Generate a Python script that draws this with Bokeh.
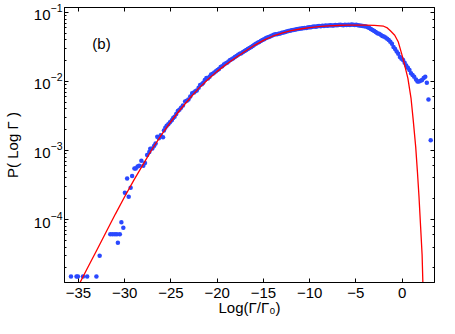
from bokeh.plotting import figure
from bokeh.models import (LinearAxis, LogAxis, Range1d, SingleIntervalTicker, LogTicker, Label,
                          CustomLabelingPolicy)
from bokeh.embed import file_html
from bokeh.resources import INLINE

# fitted curve (red)
fit_x = [-35.0, -34.0, -33.0, -32.0, -31.0, -30.0, -29.0, -28.0, -27.0, -26.0,
         -25.0, -24.0, -23.0, -22.0, -21.0, -20.0, -19.0, -18.0, -17.0, -16.0,
         -15.0, -14.0, -13.0, -12.0, -11.0, -10.0, -9.0, -8.0, -7.0, -6.0,
         -5.0, -4.0, -3.0, -2.0, -1.6, -1.27, -0.8, -0.41, 0.1, 0.62,
         0.96, 1.2, 1.47, 1.65, 1.82, 2.0, 2.16, 2.25]
fit_p = [1.10e-5, 2.0e-5, 3.63e-5, 6.6e-5, 1.20e-4, 2.14e-4, 3.72e-4, 6.3e-4, 1.06e-3, 1.70e-3,
         2.63e-3, 3.89e-3, 5.62e-3, 7.94e-3, 1.07e-2, 1.40e-2, 1.78e-2, 2.21e-2, 2.72e-2, 3.31e-2,
         3.94e-2, 4.52e-2, 5.01e-2, 5.43e-2, 5.75e-2, 6.03e-2, 6.24e-2, 6.38e-2, 6.46e-2, 6.53e-2,
         6.56e-2, 6.56e-2, 6.50e-2, 6.31e-2, 5.96e-2, 5.42e-2, 4.68e-2, 3.72e-2, 2.14e-2, 1.12e-2,
         5.75e-3, 2.75e-3, 1.12e-3, 5.0e-4, 2.19e-4, 7.8e-5, 3.09e-5, 1.12e-5]

# measured data (blue dots)
data_x = [-35.8, -35.2, -35.05, -34.5, -34.05, -33.05, -32.7,
          -31.55, -31.3, -31.05, -30.83, -30.73, -30.52, -30.35, -30.14,
          -29.97, -29.73, -29.56, -29.35, -29.19, -28.94, -28.8, -28.6, -28.43, -28.19,
          -27.98, -27.8, -27.57, -27.33, -27.23,
          -27.0, -26.8, -26.65, -26.47, -26.3, -26.1, -25.85, -25.75, -25.6, -25.45,
          -25.28, -25.1, -24.9, -24.75, -24.6, -24.42, -24.25, -24.08, -23.9, -23.7,
          -23.46, -23.28, -23.1, -22.9, -22.7, -22.5, -22.35, -22.2, -22.0, -21.84,
          -21.65, -21.5, -21.33, -21.16, -21.0, -20.82, -20.65, -20.48, -20.3, -20.13,
          -19.96, -19.8, -19.62, -19.45, -19.27, -19.1, -18.93, -18.77, -18.6, -18.42,
          -18.25, -18.08, -17.9, -17.72, -17.55, -17.38, -17.2, -17.02, -16.85, -16.68,
          -16.5, -16.32, -16.15, -15.98, -15.8, -15.62, -15.45, -15.28, -15.1, -14.92,
          -14.75, -14.58, -14.4, -14.22, -14.05, -13.88, -13.7, -13.52, -13.35, -13.18,
          -13.0, -12.82, -12.65, -12.48, -12.3, -12.12, -11.95, -11.78, -11.6, -11.42,
          -11.25, -11.08, -10.9, -10.72, -10.55, -10.38, -10.2, -10.02, -9.85, -9.68,
          -9.5, -9.32, -9.15, -8.98, -8.8, -8.62, -8.45, -8.28, -8.1, -7.92,
          -7.75, -7.58, -7.4, -7.22, -7.05, -6.88, -6.7, -6.52, -6.35, -6.18,
          -6.0, -5.82, -5.65, -5.48, -5.3, -5.12, -4.95, -4.78, -4.6, -4.42,
          -4.25, -4.08, -3.9, -3.72, -3.55, -3.38, -3.2, -3.02, -2.85, -2.68,
          -2.5, -2.32, -2.15, -1.98, -1.8, -1.62, -1.45, -1.28, -1.1, -0.93,
          -0.76, -0.59, -0.42, -0.24, -0.07, 0.1, 0.27, 0.44, 0.62, 0.79,
          0.96, 1.13, 1.3, 1.5, 1.66, 1.82, 2.0, 2.16, 2.33, 2.5,
          2.67, 2.85, 3.09]
data_p = [1.5e-5, 1.5e-5, 1.5e-5, 1.5e-5, 1.5e-5, 1.5e-5, 3.0e-5,
          6.1e-5, 6.1e-5, 6.1e-5, 6.1e-5, 4.6e-5, 6.1e-5, 9.1e-5, 7.6e-5,
          2.44e-4, 3.94e-4, 2.14e-4, 2.88e-4, 4.27e-4, 5.5e-4, 5.5e-4, 5.85e-4, 6.0e-4, 7.1e-4,
          6.0e-4, 6.6e-4, 8.6e-4, 9.5e-4, 1.06e-3,
          1.07e-3, 1.17e-3, 1.26e-3, 1.58e-3, 1.51e-3, 1.66e-3, 1.55e-3, 1.95e-3, 2.14e-3, 2.29e-3,
          2.40e-3, 2.57e-3, 2.75e-3, 2.95e-3, 3.09e-3, 3.39e-3, 3.72e-3, 3.89e-3, 4.17e-3, 4.47e-3,
          5.13e-3, 5.25e-3, 5.50e-3, 6.03e-3, 6.76e-3, 6.92e-3, 7.24e-3, 7.41e-3, 8.13e-3, 8.91e-3,
          9.12e-3, 9.55e-3, 1.05e-2, 1.12e-2, 1.10e-2, 1.17e-2, 1.26e-2, 1.29e-2, 1.35e-2, 1.41e-2,
          1.46e-2, 1.51e-2, 1.62e-2, 1.66e-2, 1.76e-2, 1.82e-2, 1.86e-2, 1.95e-2, 2.04e-2, 2.09e-2,
          2.16e-2, 2.26e-2, 2.34e-2, 2.43e-2, 2.51e-2, 2.57e-2, 2.66e-2, 2.75e-2, 2.85e-2, 2.95e-2,
          3.05e-2, 3.16e-2, 3.27e-2, 3.39e-2, 3.51e-2, 3.63e-2, 3.72e-2, 3.85e-2, 3.98e-2, 4.07e-2,
          4.22e-2, 4.32e-2, 4.42e-2, 4.52e-2, 4.62e-2, 4.73e-2, 4.84e-2, 4.84e-2, 4.90e-2, 4.95e-2,
          5.07e-2, 5.13e-2, 5.19e-2, 5.31e-2, 5.37e-2, 5.43e-2, 5.50e-2, 5.56e-2, 5.62e-2, 5.69e-2,
          5.75e-2, 5.78e-2, 5.86e-2, 5.92e-2, 5.96e-2, 5.96e-2, 6.05e-2, 6.12e-2, 6.10e-2, 6.19e-2,
          6.24e-2, 6.21e-2, 6.31e-2, 6.34e-2, 6.31e-2, 6.40e-2, 6.37e-2, 6.46e-2, 6.41e-2, 6.49e-2,
          6.52e-2, 6.46e-2, 6.49e-2, 6.55e-2, 6.52e-2, 6.58e-2, 6.61e-2, 6.56e-2, 6.53e-2, 6.61e-2,
          6.58e-2, 6.64e-2, 6.58e-2, 6.67e-2, 6.61e-2, 6.56e-2, 6.61e-2, 6.53e-2, 6.49e-2, 6.43e-2,
          6.38e-2, 6.31e-2, 6.24e-2, 6.10e-2, 5.96e-2, 5.75e-2, 5.56e-2, 5.37e-2, 5.19e-2, 5.01e-2,
          4.90e-2, 4.73e-2, 4.57e-2, 4.47e-2, 4.32e-2, 4.17e-2, 3.98e-2, 3.76e-2, 3.51e-2, 3.16e-2,
          2.95e-2, 2.72e-2, 2.51e-2, 2.26e-2, 2.14e-2, 2.04e-2, 1.86e-2, 1.70e-2, 1.58e-2, 1.46e-2,
          1.32e-2, 1.24e-2, 1.17e-2, 1.07e-2, 1.0e-2, 1.0e-2, 1.02e-2, 1.05e-2, 1.12e-2, 1.17e-2,
          9.55e-3, 5.50e-3, 1.41e-3]

x_ticks = [-35, -30, -25, -20, -15, -10, -5, 0]
x_tick_labels = ["\u221235", "\u221230", "\u221225", "\u221220", "\u221215", "\u221210", "\u22125", "0"]

FONT = "Liberation Sans"

p = figure(width=439, height=318, y_axis_type="log",
           x_range=Range1d(-36.5, 3.5), y_range=Range1d(1.225e-5, 0.1178),
           output_backend="svg", toolbar_location=None,
           min_border_left=60, min_border_right=1, min_border_top=7, min_border_bottom=36)
p.grid.visible = False
p.outline_line_color = "black"
p.background_fill_color = "white"
p.border_fill_color = "white"

p.scatter(data_x, data_p, size=4.5, fill_color="#2a48ff", line_color=None)
p.line(fit_x, fit_p, line_color="#ff0000", line_width=1.3)

xax = p.xaxis[0]
xax.ticker = SingleIntervalTicker(interval=5, num_minor_ticks=0)
xax.major_label_overrides = {t: s for t, s in zip(x_ticks, x_tick_labels)}
xax.axis_label = "Log(\u0393/\u0393\u2080)"

yax = p.yaxis[0]
yax.axis_label = "P( Log \u0393 )"

for ax in (xax, yax):
    ax.major_tick_in = 4
    ax.major_tick_out = 0
    ax.minor_tick_in = 2
    ax.minor_tick_out = 0
    ax.axis_line_color = "black"
    ax.major_tick_line_color = "black"
    ax.minor_tick_line_color = "black"
    ax.major_label_text_font = FONT
    ax.major_label_text_font_size = "15px"
    ax.major_label_text_color = "black"
    ax.axis_label_text_font = FONT
    ax.axis_label_text_font_size = "15px"
    ax.axis_label_text_font_style = "normal"
    ax.axis_label_text_color = "black"

xax.major_label_standoff = 5
xax.axis_label_standoff = -2
yax.major_label_standoff = 2
yax.axis_label_standoff = 10

hide_all = CustomLabelingPolicy(code="for (const i of indices) { indices.unset(i) } return indices")
top = LinearAxis(ticker=SingleIntervalTicker(interval=5, num_minor_ticks=0))
right = LogAxis(ticker=LogTicker())
for ax in (top, right):
    ax.major_tick_in = 4
    ax.major_tick_out = 0
    ax.minor_tick_in = 2
    ax.minor_tick_out = 0
    ax.major_label_text_font_size = "1px"
    ax.major_label_standoff = 0
    ax.major_label_policy = hide_all
    ax.axis_line_color = "black"
p.add_layout(top, "above")
p.add_layout(right, "right")

p.add_layout(Label(x=-32.5, y=0.035, text="(b)", text_font=FONT, text_font_size="15px",
                   text_align="center", text_baseline="middle", text_color="black"))

open("out.html", "w").write(file_html(p, INLINE))
